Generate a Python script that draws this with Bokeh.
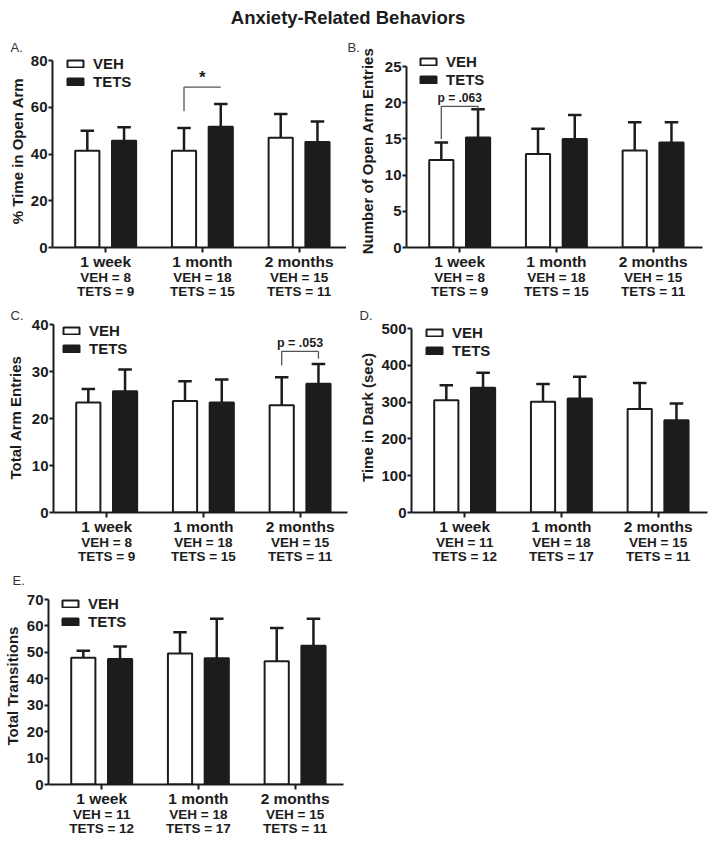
import numpy as np
from bokeh.plotting import figure
from bokeh.models import Range1d, FixedTicker, Div, LinearAxis
from bokeh.layouts import column, row
from bokeh.core.properties import value
from bokeh.embed import file_html
from bokeh.resources import INLINE

FONT = "Liberation Sans"
INK = "#1c1c1c"
GRAY = "#555555"

# ---------------- data ----------------
categories = ["1 week", "1 month", "2 months"]

# A. % Time in Open Arm
A_veh = [41.4, 41.4, 46.9]
A_veh_sem = [8.6, 9.7, 10.2]
A_tets = [45.7, 51.7, 45.1]
A_tets_sem = [5.7, 9.7, 8.8]
A_n_veh = [8, 18, 15]
A_n_tets = [9, 15, 11]

# B. Number of Open Arm Entries
B_veh = [12.1, 12.9, 13.4]
B_veh_sem = [2.4, 3.5, 3.9]
B_tets = [15.2, 15.0, 14.5]
B_tets_sem = [3.9, 3.3, 2.8]
B_n_veh = [8, 18, 15]
B_n_tets = [9, 15, 11]

# C. Total Arm Entries
C_veh = [23.4, 23.7, 22.8]
C_veh_sem = [2.9, 4.2, 6.0]
C_tets = [25.8, 23.4, 27.4]
C_tets_sem = [4.6, 4.9, 4.2]
C_n_veh = [8, 18, 15]
C_n_tets = [9, 15, 11]

# D. Time in Dark (sec)
D_veh = [305, 301, 281]
D_veh_sem = [41, 48, 71]
D_tets = [339, 310, 251]
D_tets_sem = [41, 59, 45]
D_n_veh = [11, 18, 15]
D_n_tets = [12, 17, 11]

# E. Total Transitions
E_veh = [48.0, 49.6, 46.6]
E_veh_sem = [2.6, 8.0, 12.6]
E_tets = [47.5, 47.8, 52.5]
E_tets_sem = [4.7, 14.9, 10.2]
E_n_veh = [11, 18, 15]
E_n_tets = [12, 17, 11]

# significance brackets: (category index, left leg bottom, right leg bottom, bracket top, label, label y)
A_sig = (1, 58.3, None, 68.6, "*", 72.9)
B_sig = (0, 15.0, 19.1, 19.5, "p = .063", 20.6)
C_sig = (2, 31.3, 32.7, 34.3, "p = .053", 36.0)

OFF = 0.19
BAR_W = 0.25
CAP_W = 0.14
PX_PER_CAT = 96.7


def style_text_axis(ax, size, standoff):
    ax.major_label_text_font = FONT
    ax.major_label_text_font_style = "bold"
    ax.major_label_text_font_size = size
    ax.major_label_text_color = INK
    ax.major_label_standoff = standoff
    ax.minor_tick_line_color = None
    ax.axis_label_standoff = 0


def make_panel(letter, letter_dx, ylabel, ymax, ystep, veh, veh_sem, tets, tets_sem,
               n_veh, n_tets, borders, frame, pad, legend_off, ylab_standoff,
               sig=None, sig_size="12px"):
    # borders: left, right, bottom ; frame: width, data height (0..ymax) ; pad: px above ymax
    mbl, mbr, mbb = borders
    fw, fh = frame
    fh_tot = fh + pad
    y_end = ymax + pad * ymax / fh
    x_end = 0.45 + fw / PX_PER_CAT
    p = figure(frame_width=fw, frame_height=fh_tot,
               min_border_left=mbl, min_border_top=0,
               min_border_right=mbr, min_border_bottom=mbb,
               x_range=Range1d(0.45, x_end), y_range=Range1d(0, y_end),
               output_backend="svg", toolbar_location=None)
    p.outline_line_color = None
    p.grid.visible = False
    p.background_fill_color = "white"
    p.border_fill_color = "white"

    # panel letter
    p.title.text = letter
    p.title.align = "left"
    p.title.offset = letter_dx
    p.title.standoff = 0
    p.title.text_font = FONT
    p.title.text_font_style = "normal"
    p.title.text_font_size = "13px"
    p.title.text_color = "#333333"

    xs = np.arange(1, len(categories) + 1)
    xv = xs - OFF
    xt = xs + OFF
    veh = np.array(veh, float)
    tets = np.array(tets, float)
    vtop = veh + np.array(veh_sem, float)
    ttop = tets + np.array(tets_sem, float)

    # error bars (upper only)
    for x, b, t in ((xv, veh, vtop), (xt, tets, ttop)):
        p.segment(x0=x, y0=b, x1=x, y1=t, line_color=INK, line_width=2.5)
        p.segment(x0=x - CAP_W / 2, y0=t, x1=x + CAP_W / 2, y1=t,
                  line_color=INK, line_width=2.5)

    p.vbar(x=xv, top=veh, width=BAR_W, bottom=0, fill_color="white",
           line_color=INK, line_width=2, legend_label="VEH")
    p.vbar(x=xt, top=tets, width=BAR_W, bottom=0, fill_color=INK,
           line_color=INK, line_width=2, legend_label="TETS")

    # legend
    lg = p.legend[0]
    lg.glyph_width = 20
    lg.glyph_height = 9
    lg.label_height = 17
    lg.label_standoff = 8
    lg.spacing = 1
    lg.padding = 0
    lg.margin = 0
    lg.border_line_color = None
    lg.background_fill_alpha = 0
    lg.label_text_font = FONT
    lg.label_text_font_style = "bold"
    lg.label_text_font_size = "15px"
    lg.label_text_color = INK
    gx, gy = legend_off
    legend_h = 2 * 17 + 1
    lg.location = (gx, fh_tot - (gy + pad - 8.5) - legend_h)

    # y axis
    yax = p.yaxis[0]
    yax.ticker = FixedTicker(ticks=list(range(0, ymax + 1, ystep)))
    yax.bounds = (0, ymax)
    yax.axis_label = ylabel
    yax.axis_label_text_font = FONT
    yax.axis_label_text_font_style = "bold"
    yax.axis_label_text_font_size = "15px"
    yax.axis_label_text_color = INK
    yax.axis_label_standoff = ylab_standoff
    yax.major_label_text_font = FONT
    yax.major_label_text_font_style = "bold"
    yax.major_label_text_font_size = "15px"
    yax.major_label_text_color = INK
    yax.major_label_standoff = 1
    yax.axis_line_width = 2
    yax.axis_line_color = INK
    yax.major_tick_line_width = 2
    yax.major_tick_line_color = INK
    yax.major_tick_in = 0
    yax.major_tick_out = 4
    yax.minor_tick_line_color = None

    # x axis with category names
    xax = p.xaxis[0]
    xax.ticker = FixedTicker(ticks=list(xs))
    xax.major_label_overrides = {int(i): c for i, c in zip(xs, categories)}
    style_text_axis(xax, "15.5px", 0)
    xax.axis_line_width = 2
    xax.axis_line_color = INK
    xax.major_tick_line_width = 2
    xax.major_tick_line_color = INK
    xax.major_tick_in = 0
    xax.major_tick_out = 5

    # two more rows of labels: group sizes
    for prefix, ns, so in (("VEH", n_veh, -3), ("TETS", n_tets, -4)):
        ax = LinearAxis(ticker=FixedTicker(ticks=list(xs)),
                        major_label_overrides={int(i): f"{prefix} = {n}" for i, n in zip(xs, ns)},
                        axis_line_color=None, major_tick_line_color=None,
                        major_tick_in=0, major_tick_out=0)
        style_text_axis(ax, "13.5px", so)
        p.add_layout(ax, "below")

    # significance bracket
    if sig is not None:
        ci, left_low, right_low, top, txt, ty = sig
        x0 = xs[ci] - OFF
        x1 = xs[ci] + OFF
        p.line(x=[x0, x0, x1], y=[left_low, top, top], line_color=GRAY, line_width=1.3)
        if right_low is not None:
            p.line(x=[x1, x1], y=[top, right_low], line_color=GRAY, line_width=1.3)
        p.text(x=[(x0 + x1) / 2], y=[ty], text=[txt], text_align="center",
               text_baseline="middle", text_font=value(FONT), text_font_style="bold",
               text_font_size=sig_size, text_color=INK)
    return p


pA = make_panel("A.", -42, "% Time in Open Arm", 80, 20, A_veh, A_veh_sem, A_tets, A_tets_sem,
                A_n_veh, A_n_tets, borders=(52, 0, 58), frame=(294, 187), pad=6,
                legend_off=(13, 3), ylab_standoff=2, sig=A_sig, sig_size="17px")
pB = make_panel("B.", -59, "Number of Open Arm Entries", 25, 5, B_veh, B_veh_sem, B_tets,
                B_tets_sem, B_n_veh, B_n_tets, borders=(60, 4, 58), frame=(296, 181), pad=12,
                legend_off=(12, -4.5), ylab_standoff=6, sig=B_sig, sig_size="12px")
pC = make_panel("C.", -43, "Total Arm Entries", 40, 10, C_veh, C_veh_sem, C_tets, C_tets_sem,
                C_n_veh, C_n_tets, borders=(53, 9, 58), frame=(294, 188), pad=2,
                legend_off=(8, 6), ylab_standoff=5, sig=C_sig, sig_size="12.5px")
pD = make_panel("D.", -52, "Time in Dark (sec)", 500, 100, D_veh, D_veh_sem, D_tets, D_tets_sem,
                D_n_veh, D_n_tets, borders=(53, 1, 56), frame=(296, 184), pad=6,
                legend_off=(13, 4.5), ylab_standoff=2)
pE = make_panel("E.", -36, "Total Transitions", 70, 10, E_veh, E_veh_sem, E_tets, E_tets_sem,
                E_n_veh, E_n_tets, borders=(48, 14, 54), frame=(295, 185), pad=12,
                legend_off=(12, 4), ylab_standoff=3)

title = Div(text=("<div style=\"width:696px;height:37px;text-align:center;"
                  "font-family:'Liberation Sans';font-weight:bold;font-size:18.5px;"
                  "line-height:20px;color:#1c1c1c;padding-top:8px;box-sizing:border-box\">"
                  "Anxiety-Related Behaviors</div>"),
            width=706, height=37, margin=(0, 0, 0, 0))

layout = column(title, row(pA, pB), row(pC, pD), pE)

open("out.html", "w").write(file_html(layout, INLINE))
